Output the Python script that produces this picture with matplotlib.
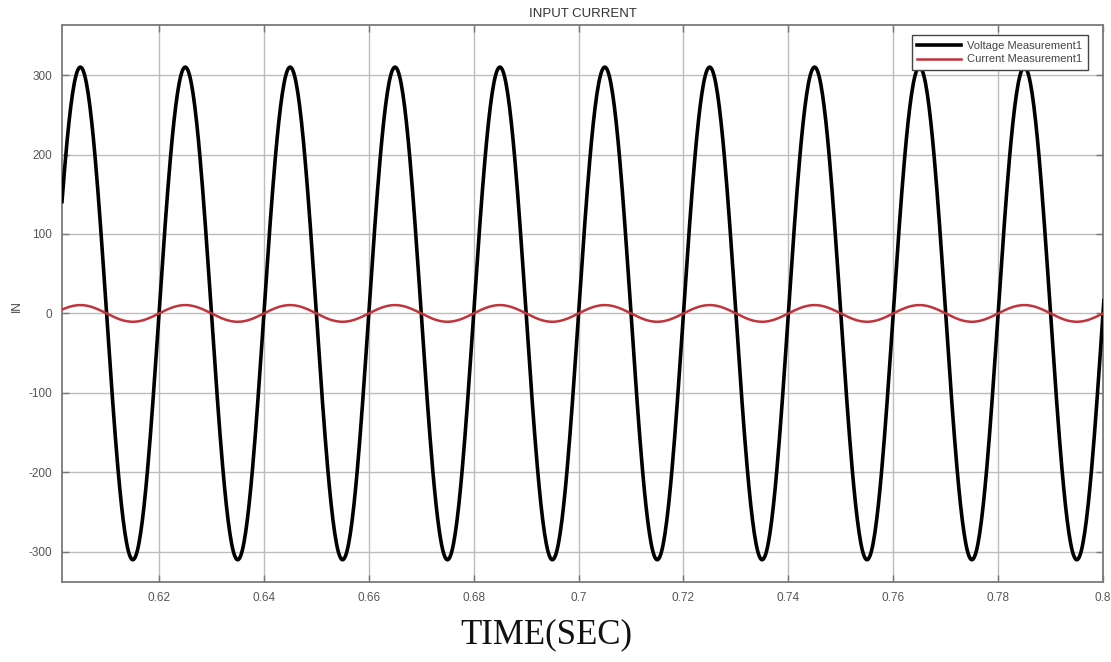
import numpy as np
import matplotlib
matplotlib.use("Agg")
import matplotlib.pyplot as plt

# ---- data: extrema (time, value) of each waveform ----
volt_peak_t = [0.595, 0.605, 0.615, 0.625, 0.635, 0.645, 0.655, 0.665, 0.675, 0.685,
               0.695, 0.705, 0.715, 0.725, 0.735, 0.745, 0.755, 0.765, 0.775, 0.785,
               0.795, 0.805]
volt_peak_v = [-310, 310, -310, 310, -310, 310, -310, 310, -310, 310,
               -310, 310, -310, 310, -310, 310, -310, 310, -310, 310,
               -310, 310]
curr_peak_t = volt_peak_t
curr_peak_v = [-10.5, 10.5, -10.5, 10.5, -10.5, 10.5, -10.5, 10.5, -10.5, 10.5,
               -10.5, 10.5, -10.5, 10.5, -10.5, 10.5, -10.5, 10.5, -10.5, 10.5,
               -10.5, 10.5]

x_ticks = [0.62, 0.64, 0.66, 0.68, 0.70, 0.72, 0.74, 0.76, 0.78, 0.80]
x_tick_labels = ["0.62", "0.64", "0.66", "0.68", "0.7", "0.72", "0.74", "0.76", "0.78", "0.8"]
y_ticks = [-300, -200, -100, 0, 100, 200, 300]
y_tick_labels = ["-300", "-200", "-100", "0", "100", "200", "300"]
series_names = ["Voltage Measurement1", "Current Measurement1"]


def smooth_between_extrema(tp, vp, n=60):
    ts, vs = [], []
    for i in range(len(tp) - 1):
        t0, t1, v0, v1 = tp[i], tp[i + 1], vp[i], vp[i + 1]
        s = np.linspace(0, 1, n, endpoint=False)
        ts.append(t0 + s * (t1 - t0))
        vs.append((v0 + v1) / 2 + (v0 - v1) / 2 * np.cos(np.pi * s))
    ts.append([tp[-1]])
    vs.append([vp[-1]])
    return np.concatenate(ts), np.concatenate(vs)


tv, vv = smooth_between_extrema(volt_peak_t, volt_peak_v)
tc, vc = smooth_between_extrema(curr_peak_t, curr_peak_v)

plt.rcParams['font.family'] = ['Liberation Sans', 'DejaVu Sans']

fig = plt.figure(figsize=(11.11, 6.62), dpi=100)
ax = fig.add_axes([62 / 1111, 80 / 662, (1103 - 62) / 1111, (582 - 25) / 662])

ax.plot(tv, vv, color="black", lw=2.6, label=series_names[0], zorder=3)
ax.plot(tc, vc, color="#c0343c", lw=1.8, label=series_names[1], zorder=4)

ax.set_xlim(0.6015, 0.8)
ax.set_ylim(-338, 363)
ax.set_xticks(x_ticks)
ax.set_xticklabels(x_tick_labels)
ax.set_yticks(y_ticks)
ax.set_yticklabels(y_tick_labels)
ax.tick_params(direction="in", length=5, width=1, colors="#777777",
               labelsize=8.5, labelcolor="#555555", pad=7)
ax.tick_params(top=True, right=True)
ax.grid(True, color="#bdbdbd", lw=1.0, zorder=0)
for sp in ax.spines.values():
    sp.set_color("#7a7a7a")
    sp.set_linewidth(1.3)

ax.set_title("INPUT CURRENT", fontsize=9.5, color="#333333", pad=6)
fig.text(17 / 1111, 1 - 306 / 662, "IN", fontsize=8.5, color="#444444",
         rotation=90, ha="center", va="center")
fig.text(0.492, 0.028, "TIME(SEC)", family=["Liberation Serif", "DejaVu Serif"],
         fontsize=25, color="#111111", ha="center", va="baseline")

leg = ax.legend(loc="upper right", fontsize=8, frameon=True, fancybox=False,
                edgecolor="#444444", framealpha=1, handlelength=3.9,
                borderpad=0.5, labelspacing=0.35, handletextpad=0.6,
                borderaxespad=0, bbox_to_anchor=((1088 - 62) / (1103 - 62), 1 - 10 / 557))
leg.get_frame().set_linewidth(1.0)
for t in leg.get_texts():
    t.set_color("#444444")

fig.savefig("out.png", dpi=100, facecolor="white")
